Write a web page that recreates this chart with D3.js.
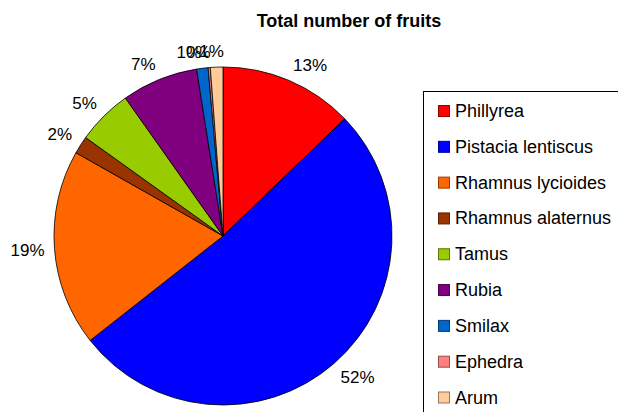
<!DOCTYPE html>
<html>
<head>
<meta charset="utf-8">
<script src="https://cdn.jsdelivr.net/npm/d3@7"></script>
<style>
  body { margin: 0; background: #fff; }
  svg { display: block; font-family: "Liberation Sans", Arial, sans-serif; }
</style>
</head>
<body>
<div id="chart-area"></div>
<script>
// data
var species = ["Phillyrea", "Pistacia lentiscus", "Rhamnus lycioides", "Rhamnus alaternus",
    "Tamus", "Rubia", "Smilax", "Ephedra", "Arum"]
var shares = [12.8, 51.6, 18.8, 1.7, 5.3, 7.3, 1.1, 0.2, 1.2]
var colors = ["#ff0000", "#0000ff", "#ff6600", "#993300", "#99cc00", "#800080", "#0066cc", "#ff8080", "#ffcc99"]
var title = "Total number of fruits"

// dimensions
var width = 618, height = 412
var cx = 223, cy = 236, radius = 169

var svg = d3.select("#chart-area")
    .append("svg")
        .attr("width", width)
        .attr("height", height)

// title
svg.append("text")
    .attr("x", 349)
    .attr("y", 27)
    .attr("text-anchor", "middle")
    .attr("font-size", "18px")
    .attr("font-weight", "bold")
    .text(title)

var data = species.map(function (s, i) { return { name: s, value: shares[i], color: colors[i] } })
var total = d3.sum(shares)

var pie = d3.pie()
    .sort(null)
    .value(function (d) { return d.value })
var arc = d3.arc()
    .innerRadius(0)
    .outerRadius(radius)

var g = svg.append("g")
    .attr("transform", "translate(" + cx + "," + cy + ")")

var arcs = pie(data)

g.selectAll("path")
    .data(arcs)
    .enter()
    .append("path")
        .attr("d", arc)
        .attr("fill", function (d) { return d.data.color })
        .attr("stroke", "#000")
        .attr("stroke-width", 0.8)

// percent labels, placed outside like Excel
var fontSize = 17
var labels = g.selectAll(".pct")
    .data(arcs)
    .enter()
    .append("text")
        .attr("class", "pct")
        .attr("font-size", fontSize + "px")
        .text(function (d) { return Math.round(d.data.value / total * 100) + "%" })

labels.each(function (d) {
    var node = d3.select(this)
    var w = this.getComputedTextLength()
    var h = fontSize * 0.72
    var a = (d.startAngle + d.endAngle) / 2
    var dx = Math.sin(a), dy = -Math.cos(a)
    var ax = dx * (radius + 10), ay = dy * (radius + 10)
    var t = Math.max(-1, Math.min(1, dx * 10))
    var left = ax - w * (1 - t) / 2
    var top
    if (dy < -0.3) top = ay - h
    else if (dy > 0.3) top = ay
    else top = ay - h / 2 + dy * h / 2
    node.attr("x", left).attr("y", top + h)
})

// legend
var legend = svg.append("g")
legend.append("rect")
    .attr("x", 423.5)
    .attr("y", 91.5)
    .attr("width", 300)
    .attr("height", 400)
    .attr("fill", "#fff")
    .attr("stroke", "#000")
    .attr("stroke-width", 1)

var ly = d3.scalePoint()
    .domain(species)
    .range([111, 397.5])

var items = legend.selectAll(".item")
    .data(data)
    .enter()
    .append("g")
        .attr("class", "item")
        .attr("transform", function (d) { return "translate(0," + ly(d.name) + ")" })

items.append("rect")
    .attr("x", 438.5)
    .attr("y", -5.5)
    .attr("width", 11)
    .attr("height", 11)
    .attr("fill", function (d) { return d.color })
    .attr("stroke", function (d) { return d3.color(d.color).darker(1.5) })
    .attr("stroke-width", 1)

items.append("text")
    .attr("x", 455)
    .attr("y", 6)
    .attr("font-size", "18px")
    .text(function (d) { return d.name })
</script>
</body>
</html>
